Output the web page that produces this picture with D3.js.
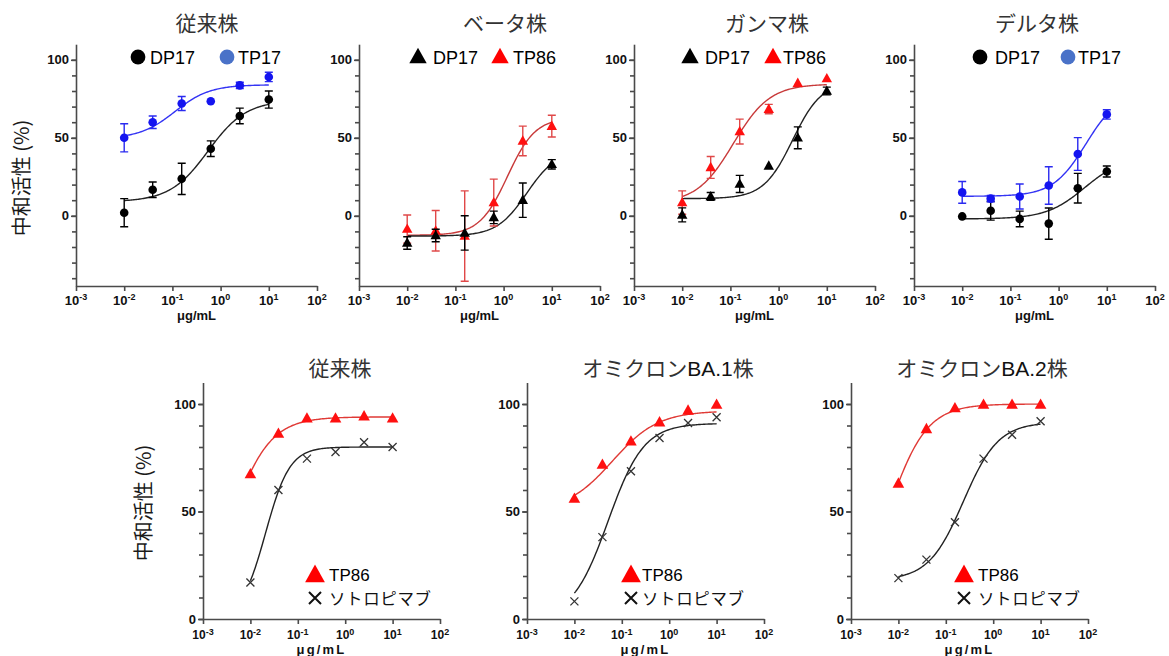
<!DOCTYPE html>
<html><head><meta charset="utf-8">
<script src="https://cdn.jsdelivr.net/npm/d3@7"></script>
<style>
body{margin:0;background:#fff;}
svg{display:block;font-family:"Liberation Sans",Arial,sans-serif;}
</style></head><body>
<svg id="chart" width="1169" height="656"></svg>
<script>
// ---------- data ----------
const concentrations = [0.01, 0.039, 0.156, 0.625, 2.5, 10];
const xTickExponents = [-3, -2, -1, 0, 1, 2];
const yMajorTicks = [0, 50, 100];
const topYMinor = [-40, -30, -20, -10, 0, 10, 20, 30, 40, 50, 60, 70, 80, 90, 100];
const bottomYMinor = [0, 10, 20, 30, 40, 50, 60, 70, 80, 90, 100];
const topTitles = ["従来株", "ベータ株", "ガンマ株", "デルタ株"];
const bottomTitles = ["従来株", "オミクロンBA.1株", "オミクロンBA.2株"];
const yLabel = "中和活性 (%)";
const xLabel = "μg/mL";

// top row: mean, error (±), 4PL fit [bottom, top, logEC50, hill]
const wtDP17 = [2, 16.7, 23.7, 43, 64, 74.5];
const wtDP17Err = [9, 5, 10, 5, 5, 5.5];
const wtDP17Fit = [9, 74, -0.26, 1.1];
const wtTP17 = [50, 60, 72, 73.4, 83.6, 89];
const wtTP17Err = [9, 4, 4.5, 0, 2, 3];
const wtTP17Fit = [49.5, 84, -0.95, 1.2];

const betaDP17 = [-17.4, -12.6, -11, -1, 10, 33];
const betaDP17Err = [4, 4, 11, 4, 11, 3];
const betaDP17Fit = [-13, 42, 0.48, 1.4];
const betaTP86 = [-8.5, -9.6, -13, 8.5, 48, 57.5];
const betaTP86Err = [9, 13, 29, 15, 9.5, 7];
const betaTP86Fit = [-12.5, 63, 0.08, 1.5];

const gammaDP17 = [0.6, 12.4, 20.4, 32, 50, 80];
const gammaDP17Err = [4.5, 2.5, 5.5, 0, 7, 2.5];
const gammaDP17Fit = [11, 86, 0.29, 1.44];
const gammaTP86 = [8.5, 31, 54, 68.4, 85, 88];
const gammaTP86Err = [7.5, 7, 8, 3, 0, 0];
const gammaTP86Fit = [8, 84.5, -0.94, 1.15];

const deltaDP17 = [-0.4, 3.2, -2, -5, 17.7, 28.4];
const deltaDP17Err = [0, 6, 5, 10, 9.5, 3.5];
const deltaDP17Fit = [-2, 38, 0.54, 1.09];
const deltaTP17 = [15, 11, 12.4, 19.4, 39.6, 65];
const deltaTP17Err = [7, 2, 8, 12, 10.5, 3];
const deltaTP17Fit = [12.5, 80, 0.57, 1.26];

// bottom row
const wtTP86 = [67.4, 86.2, 93.3, 93.3, 94.3, 93.3];
const wtTP86Fit = [0, 94, -2.4, 1.05];
const wtSotro = [17, 60, 74.6, 77.7, 82.2, 80];
const wtSotroFit = [0, 80, -1.68, 1.7];
const ba1TP86 = [56, 71.8, 82.6, 91.5, 97, 99.7];
const ba1TP86Fit = [50, 96.8, -1.2, 0.9];
const ba1Sotro = [8.2, 38.1, 68.7, 84.2, 91.2, 93.8];
const ba1SotroFit = [0, 91, -1.29, 1.15];
const ba2TP86 = [63, 88.4, 98.1, 99.7, 99.7, 99.7];
const ba2TP86Fit = [0, 100, -2.22, 1.07];
const ba2Sotro = [19, 27.6, 45, 74.6, 85.7, 92];
const ba2SotroFit = [18, 91.5, -0.628, 1.18];

// ---------- styles ----------
const ST = {
  black: {marker: "#000", err: "#000", curve: "#222", legend: "#000"},
  blue:  {marker: "#1414f0", err: "#2a2af0", curve: "#3434f4", legend: "#4a72c8"},
  red:   {marker: "#ff1010", err: "#e04848", curve: "#c83a3a", legend: "#ff0000"},
  redB:  {marker: "#ff1010", err: "#e04848", curve: "#e03a36", legend: "#ff0000"},
  cross: {marker: "#333", err: "#333", curve: "#222", legend: "#111"}
};
const CJK = "'Noto Sans CJK JP', sans-serif";
const LAT = "'Liberation Sans', Arial, sans-serif";

const topPanels = [
  {title: topTitles[0], series: [
    {name: "DP17", values: wtDP17, errors: wtDP17Err, fit: wtDP17Fit, st: ST.black, shape: "circle"},
    {name: "TP17", values: wtTP17, errors: wtTP17Err, fit: wtTP17Fit, st: ST.blue, shape: "circle"}]},
  {title: topTitles[1], series: [
    {name: "DP17", values: betaDP17, errors: betaDP17Err, fit: betaDP17Fit, st: ST.black, shape: "tri"},
    {name: "TP86", values: betaTP86, errors: betaTP86Err, fit: betaTP86Fit, st: ST.red, shape: "tri"}]},
  {title: topTitles[2], series: [
    {name: "DP17", values: gammaDP17, errors: gammaDP17Err, fit: gammaDP17Fit, st: ST.black, shape: "tri"},
    {name: "TP86", values: gammaTP86, errors: gammaTP86Err, fit: gammaTP86Fit, st: ST.red, shape: "tri"}]},
  {title: topTitles[3], series: [
    {name: "DP17", values: deltaDP17, errors: deltaDP17Err, fit: deltaDP17Fit, st: ST.black, shape: "circle"},
    {name: "TP17", values: deltaTP17, errors: deltaTP17Err, fit: deltaTP17Fit, st: ST.blue, shape: "circle"}]}
];
const bottomPanels = [
  {title: bottomTitles[0], series: [
    {name: "TP86", values: wtTP86, fit: wtTP86Fit, st: ST.redB, shape: "tri"},
    {name: "ソトロピマブ", values: wtSotro, fit: wtSotroFit, st: ST.cross, shape: "cross"}]},
  {title: bottomTitles[1], series: [
    {name: "TP86", values: ba1TP86, fit: ba1TP86Fit, st: ST.redB, shape: "tri"},
    {name: "ソトロピマブ", values: ba1Sotro, fit: ba1SotroFit, st: ST.cross, shape: "cross"}]},
  {title: bottomTitles[2], series: [
    {name: "TP86", values: ba2TP86, fit: ba2TP86Fit, st: ST.redB, shape: "tri"},
    {name: "ソトロピマブ", values: ba2Sotro, fit: ba2SotroFit, st: ST.cross, shape: "cross"}]}
];

// ---------- layout ----------
const TOP = {x0: [76, 359, 634, 914], w: 241, yDom: [-45, 110], yRange: [286, 44.2],
  titleDx: [131, 146, 133, 123], titleY: 31,
  legend: [[62, 74, 151, 162], [59, 74, 141, 154], [56, 71, 139, 149], [66, 81, 154, 164]], legendY: 57,
  xTickY: 305, xLabelY: 320, tickFont: 13, xTickFont: 13, supDy: -5};
const BOT = {x0: [203, 527, 851], w: 237, yDom: [0, 110], yRange: [619, 382.5],
  titleDx: [137, 141, 131], titleY: 376,
  legend: [[112, 126], [104, 115], [113, 127]], legendY1: 575, legendY2: 597,
  xTickY: 639, xLabelY: 654, tickFont: 13, xTickFont: 12, supDy: -4};

const svg = d3.select("#chart");
const fourPL = (p, c) => p[0] + (p[1] - p[0]) / (1 + Math.pow(10, (p[2] - Math.log10(c)) * p[3]));
const curveConc = d3.range(0, 121).map(i => Math.pow(10, -2 + i * 3 / 120));
const triPath = (cx, cy, s) => `M${cx},${cy - s * 0.62}L${cx + s * 0.58},${cy + s * 0.42}L${cx - s * 0.58},${cy + s * 0.42}Z`;
const crossPath = (cx, cy, s) => `M${cx - s},${cy - s}L${cx + s},${cy + s}M${cx - s},${cy + s}L${cx + s},${cy - s}`;

function drawMarker(g, shape, cx, cy, size, color, sw) {
  if (shape === "circle") g.append("circle").attr("cx", cx).attr("cy", cy).attr("r", size).attr("fill", color);
  else if (shape === "tri") g.append("path").attr("d", triPath(cx, cy, size)).attr("fill", color);
  else g.append("path").attr("d", crossPath(cx, cy, size)).attr("fill", "none").attr("stroke", color).attr("stroke-width", sw || 1.3);
}

// title: CJK runs in Noto Sans CJK, Latin runs in Liberation Sans
function drawTitle(g, cx, cy, str) {
  const t = g.append("text").attr("x", cx).attr("y", cy).attr("text-anchor", "middle")
    .attr("font-size", 21).attr("fill", "#333");
  (str.match(/[A-Za-z0-9.]+|[^A-Za-z0-9.]+/g) || []).forEach(run => {
    const latin = /^[A-Za-z0-9.]+$/.test(run);
    t.append("tspan").attr("font-family", latin ? LAT : CJK).attr("fill", latin ? "#111" : "#333").text(run);
  });
}

function drawAxes(g, x, y, x0, yMinor, L) {
  const ya = g.append("g").attr("transform", `translate(${x0},0)`)
    .call(d3.axisLeft(y).tickValues(yMinor).tickSize(4).tickFormat("").tickSizeOuter(0));
  const yb = g.append("g").attr("transform", `translate(${x0},0)`)
    .call(d3.axisLeft(y).tickValues(yMajorTicks).tickSize(5).tickPadding(2).tickFormat(d3.format("d")));
  yb.select(".domain").remove();
  yb.selectAll("text").attr("font-size", L.tickFont).attr("font-weight", "bold").attr("fill", "#111")
    .attr("font-family", LAT);
  const xa = g.append("g").attr("transform", `translate(0,${y.range()[0]})`)
    .call(d3.axisBottom(x).tickValues(xTickExponents.map(e => Math.pow(10, e))).tickSize(5).tickFormat("").tickSizeOuter(0));
  [ya, yb, xa].forEach(a => {
    a.selectAll("path,line").attr("stroke", "#4a4a4a").attr("stroke-width", 1.6);
  });
  xTickExponents.forEach(e => {
    const t = g.append("text").attr("x", x(Math.pow(10, e))).attr("y", L.xTickY)
      .attr("text-anchor", "middle").attr("font-weight", "bold").attr("font-size", L.xTickFont).attr("fill", "#111");
    t.append("tspan").text("10");
    t.append("tspan").attr("dy", L.supDy).attr("font-size", 9).text(String(e));
  });
}

// ---------- top row ----------
topPanels.forEach((p, i) => {
  const x0 = TOP.x0[i];
  const g = svg.append("g");
  const x = d3.scaleLog().domain([1e-3, 1e2]).range([x0, x0 + TOP.w]);
  const y = d3.scaleLinear().domain(TOP.yDom).range(TOP.yRange);
  drawAxes(g, x, y, x0, topYMinor, TOP);
  g.append("text").attr("x", x0 + TOP.w / 2).attr("y", TOP.xLabelY).attr("text-anchor", "middle")
    .attr("font-size", 13).attr("font-weight", "bold").attr("fill", "#111").text(xLabel);
  drawTitle(g, x0 + TOP.titleDx[i], TOP.titleY, p.title);
  const order = p.series[1].shape === "tri" ? [1, 0] : [0, 1];
  order.forEach(si => {
    const s = p.series[si];
    g.append("path").datum(curveConc.map(c => ({c, v: fourPL(s.fit, c)})))
      .attr("d", d3.line().x(d => x(d.c)).y(d => y(d.v)))
      .attr("fill", "none").attr("stroke", s.st.curve).attr("stroke-width", 1.4);
  });
  order.forEach(si => {
    const s = p.series[si];
    s.values.forEach((v, k) => {
      const cx = x(concentrations[k]);
      const e = s.errors[k];
      if (e > 0) {
        const y1 = y(v + e), y2 = y(v - e);
        g.append("path").attr("d", `M${cx},${y1}L${cx},${y2}M${cx - 4},${y1}L${cx + 4},${y1}M${cx - 4},${y2}L${cx + 4},${y2}`)
          .attr("stroke", s.st.err).attr("stroke-width", 1.4).attr("fill", "none");
      }
    });
    s.values.forEach((v, k) => drawMarker(g, s.shape, x(concentrations[k]), y(v), s.shape === "circle" ? 4.3 : 9, s.st.marker));
  });
  // legend
  const lg = TOP.legend[i];
  p.series.forEach((s, si) => {
    const mx = x0 + lg[si * 2], tx = x0 + lg[si * 2 + 1];
    drawMarker(g, s.shape, mx, TOP.legendY, s.shape === "circle" ? 7.4 : 15, s.st.legend);
    g.append("text").attr("x", tx).attr("y", TOP.legendY + 7).attr("font-size", 18).attr("fill", "#000").text(s.name);
  });
});
svg.append("text").attr("transform", "translate(29,178) rotate(-90)").attr("text-anchor", "middle")
  .attr("font-family", CJK).attr("font-size", 20).attr("fill", "#1a1a1a").text(yLabel);

// ---------- bottom row ----------
bottomPanels.forEach((p, i) => {
  const x0 = BOT.x0[i];
  const g = svg.append("g");
  const x = d3.scaleLog().domain([1e-3, 1e2]).range([x0, x0 + BOT.w]);
  const y = d3.scaleLinear().domain(BOT.yDom).range(BOT.yRange);
  drawAxes(g, x, y, x0, bottomYMinor, BOT);
  g.append("text").attr("x", x0 + BOT.w / 2).attr("y", BOT.xLabelY).attr("text-anchor", "middle")
    .attr("font-size", 13).attr("font-weight", "bold").attr("letter-spacing", 2.2).attr("fill", "#111").text(xLabel);
  drawTitle(g, x0 + BOT.titleDx[i], BOT.titleY, p.title);
  p.series.forEach(s => {
    g.append("path").datum(curveConc.map(c => ({c, v: fourPL(s.fit, c)})))
      .attr("d", d3.line().x(d => x(d.c)).y(d => y(d.v)))
      .attr("fill", "none").attr("stroke", s.st.curve).attr("stroke-width", 1.4);
  });
  p.series.forEach(s => {
    s.values.forEach((v, k) => drawMarker(g, s.shape, x(concentrations[k]), y(v), s.shape === "tri" ? 10 : 4, s.st.marker, 1.3));
  });
  const lg = BOT.legend[i];
  const s0 = p.series[0], s1 = p.series[1];
  drawMarker(g, "tri", x0 + lg[0], BOT.legendY1, 17, s0.st.legend);
  g.append("text").attr("x", x0 + lg[1]).attr("y", BOT.legendY1 + 6).attr("font-size", 17).attr("fill", "#000").text(s0.name);
  drawMarker(g, "cross", x0 + lg[0], BOT.legendY2 + 1, 6, s1.st.legend, 2);
  g.append("text").attr("x", x0 + lg[1]).attr("y", BOT.legendY2 + 8).attr("font-family", CJK)
    .attr("font-size", 16.5).attr("letter-spacing", 0.6).attr("fill", "#111").text(s1.name);
});
svg.append("text").attr("transform", "translate(151,503) rotate(-90)").attr("text-anchor", "middle")
  .attr("font-family", CJK).attr("font-size", 20).attr("fill", "#1a1a1a").text(yLabel);
</script>
</body></html>
